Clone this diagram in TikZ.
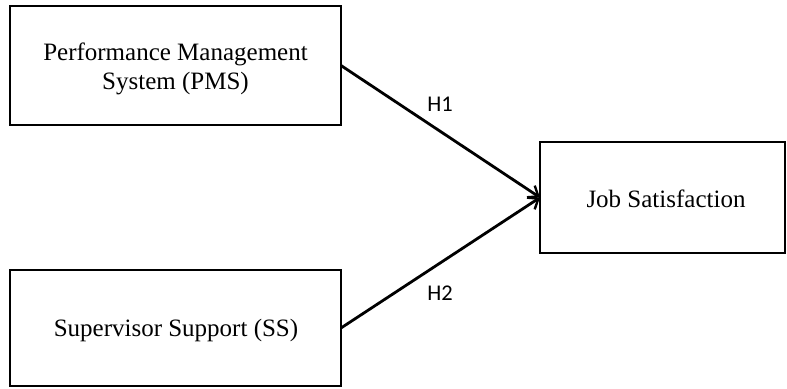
\documentclass[tikz,border=0pt]{standalone}
\usepackage{fontspec}
\setmainfont{Liberation Serif}
\newfontfamily\labfont{Carlito}
\usetikzlibrary{arrows.meta}
\begin{document}
\begin{tikzpicture}[x=1bp,y=-1bp,
  varbox/.style={draw=black, line width=2.8bp, fill=white, inner sep=0pt, outer sep=0pt},
  vartext/.style={align=center, font=\fontsize{25bp}{29bp}\selectfont, inner sep=0pt},
  hyparrow/.style={line width=2.8bp, -{Straight Barb[length=9bp,width=14bp,line width=2.4bp]}},
  hyplabel/.style={font=\labfont\fontsize{22.5bp}{26bp}\selectfont, inner sep=0pt}]
  \useasboundingbox (0,0) rectangle (787,388);
  \node[varbox, minimum width=331bp, minimum height=119bp] (pms) at (175.5,65.5) {};
  \node[vartext] (pmst) at (175.5,69) {Performance Management\\System (PMS)};
  \node[varbox, minimum width=331bp, minimum height=116bp] (ss) at (175.5,328) {};
  \node[vartext] (sst) at (176,330.5) {Supervisor Support (SS)};
  \node[varbox, minimum width=245bp, minimum height=111bp] (js) at (662.5,197.5) {};
  \node[vartext] (jst) at (666,198.5) {Job Satisfaction};
  \draw[hyparrow] (pms.east) -- (js.west);
  \draw[hyparrow] (ss.east) -- (js.west);
  \node[hyplabel] (h1) at (440,104.5) {H1};
  \node[hyplabel] (h2) at (440,293) {H2};
\end{tikzpicture}
\end{document}
